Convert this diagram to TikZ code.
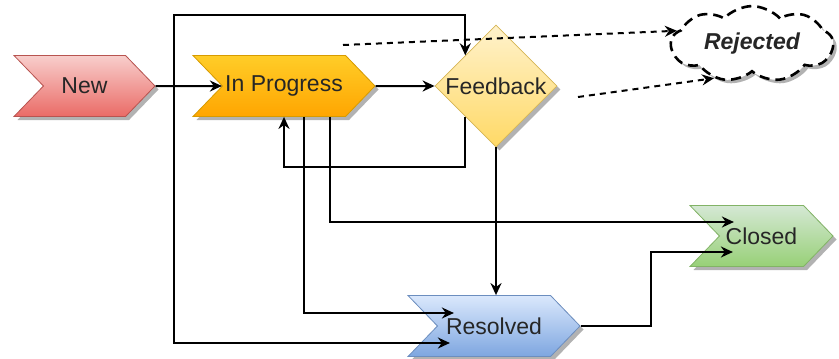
\documentclass[tikz,border=0pt]{standalone}
\usepackage{fontspec}
\setmainfont{Liberation Sans}
\usetikzlibrary{shapes.symbols,shapes.geometric,shadows,arrows.meta,calc}
\definecolor{newtop}{HTML}{F8CECC}
\definecolor{newbot}{HTML}{EA6B66}
\definecolor{newline}{HTML}{B85450}
\definecolor{iptop}{HTML}{FFCD28}
\definecolor{ipbot}{HTML}{FFA500}
\definecolor{ipline}{HTML}{D79B00}
\definecolor{fbtop}{HTML}{FFF2CC}
\definecolor{fbbot}{HTML}{FFD966}
\definecolor{fbline}{HTML}{D6B656}
\definecolor{cltop}{HTML}{D5E8D4}
\definecolor{clbot}{HTML}{97D077}
\definecolor{clline}{HTML}{82B366}
\definecolor{restop}{HTML}{DAE8FC}
\definecolor{resbot}{HTML}{7EA6E0}
\definecolor{resline}{HTML}{6C8EBF}
\tikzset{
	chevron/.style={
			signal, signal to=east, signal from=west, signal pointer angle=92,
			draw=#1line, top color=#1top, bottom color=#1bot,
			line width=0.8pt, inner sep=0pt, minimum height=61pt,
			drop shadow={shadow xshift=3.5pt, shadow yshift=-3.5pt, opacity=0.3, fill=black},
			font=\fontsize{23}{28}\selectfont, text=black!85
		}
}
\tikzstyle{line} = [draw, line width=2pt, black, -{Stealth[length=12pt, width=11pt]}]
\tikzstyle{dline} = [line, dash pattern=on 6pt off 5pt]

\begin{document}
\begin{tikzpicture}[x=1pt, y=-1pt]
  \useasboundingbox (0,0) rectangle (839,359);

  \node[chevron=new, minimum width=141pt] (New) at (84.5,86) {New};
  \node[chevron=ip, minimum width=182pt] (IP) at (284,86) {In Progress};
  \node[diamond, aspect=1, minimum size=122pt, inner sep=0pt, draw=fbline, line width=0.8pt,
        top color=fbtop, bottom color=fbbot,
        drop shadow={shadow xshift=3.5pt, shadow yshift=-3.5pt, opacity=0.3, fill=black},
        label={[font=\fontsize{23}{28}\selectfont, text=black!85]center:Feedback}] (FB) at (496,86) {};
  \node[cloud, cloud puffs=9, cloud puff arc=95, aspect=2.3, draw, dash pattern=on 10pt off 6pt, line width=2.6pt, fill=white,
        minimum width=162pt, minimum height=70pt, inner sep=0pt,
        drop shadow={shadow xshift=3.5pt, shadow yshift=-3.5pt, opacity=0.3, fill=black},
        font=\fontsize{23}{28}\selectfont\bfseries\itshape, text=black!85] (Rej) at (752,44) {Rejected};
  \node[chevron=cl, minimum width=143pt] (Closed) at (761.5,236) {Closed};
  \node[chevron=res, minimum width=172pt] (Res) at (494,326) {Resolved};

  \coordinate (d1) at (343,45);
  \coordinate (d2) at (578,97);

  \draw[line] (New) -- (IP);
  \draw[line] (IP) -- (FB);
  \draw[line] (New.east) -| (174,15) -| (FB.north west);
  \draw[line] (New.east) -| (174,343) -- ($(Res.west)+(13,17)$);
  \draw[line] (FB.south west) -- ++(0,50) -| (IP.south);
  \draw[line] ([xshift=20pt]IP.south) |- ($(Res.west)+(17,-13)$);
  \draw[line] ([xshift=46pt]IP.south) |- ($(Closed.west)+(15,-14)$);
  \draw[line] (FB.south) -- (FB.south |- Res.north);
  \draw[line] (Res.east) -- ++(70,0) |- ($(Closed.west)+(14,16)$);
  \draw[dline] (d1) -- (Rej.170);
  \draw[dline] (d2) -- (Rej.222);
\end{tikzpicture}
\end{document}
